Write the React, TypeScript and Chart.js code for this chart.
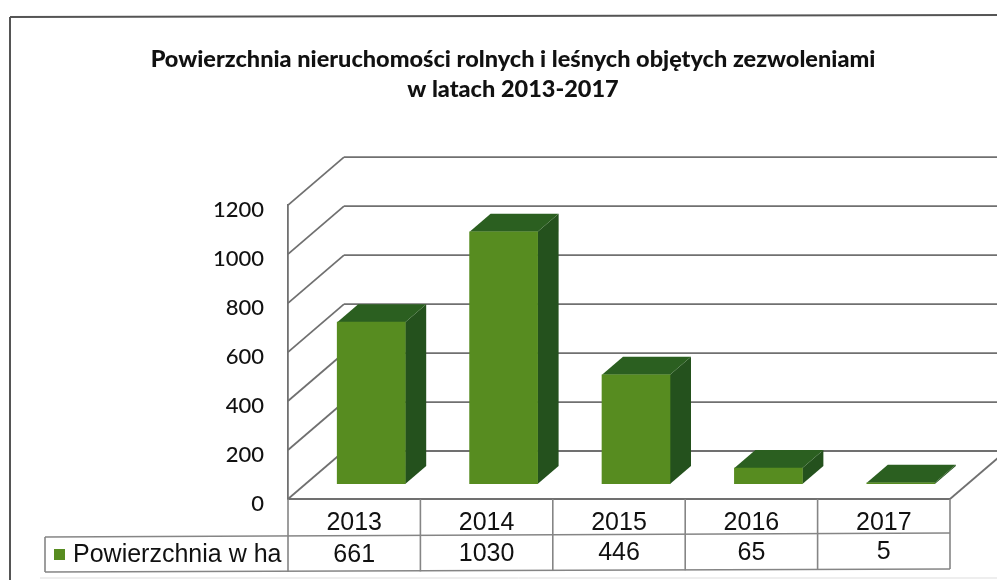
import React, { useEffect, useRef } from "react";
import { Chart, registerables } from "chart.js";

Chart.register(...registerables);

const years = ["2013", "2014", "2015", "2016", "2017"];
const areaHa = [661, 1030, 446, 65, 5];
const seriesName = "Powierzchnia w ha";
const titleLines = [
  "Powierzchnia nieruchomości rolnych i leśnych objętych zezwoleniami",
  "w latach 2013-2017",
];
const yTicks = [0, 200, 400, 600, 800, 1000, 1200];

const GRID = "#707070";
const FRONT = "#578c20";
const TOP = "#2b5f20";
const SIDE = "#24511d";
const WALL_DX = 56;
const WALL_DY = 48;
const BAR_DX = 17;
const BAR_DY = 15;
const DEPTH_X = 21;
const DEPTH_Y = 18;

function poly(ctx: CanvasRenderingContext2D, pts: number[][], fill: string) {
  ctx.beginPath();
  pts.forEach((p, i) => (i ? ctx.lineTo(p[0], p[1]) : ctx.moveTo(p[0], p[1])));
  ctx.closePath();
  ctx.fillStyle = fill;
  ctx.fill();
}

function seg(ctx: CanvasRenderingContext2D, x0: number, y0: number, x1: number, y1: number) {
  ctx.beginPath();
  ctx.moveTo(x0, y0);
  ctx.lineTo(x1, y1);
  ctx.stroke();
}

const chart3d = {
  id: "chart3d",
  beforeDatasetsDraw(chart: any) {
    const { ctx, chartArea, scales } = chart;
    const { left, right } = chartArea;
    ctx.save();
    ctx.strokeStyle = GRID;
    ctx.lineWidth = 1.8;
    yTicks.forEach((v) => {
      const y = scales.y.getPixelForValue(v);
      seg(ctx, left, y, left + WALL_DX, y - WALL_DY);
      seg(ctx, left + WALL_DX, y - WALL_DY, chart.width, y - WALL_DY);
    });
    const y0 = scales.y.getPixelForValue(0);
    seg(ctx, left, y0, right, y0);
    seg(ctx, right, y0, right + WALL_DX, y0 - WALL_DY);

    const meta = chart.getDatasetMeta(0);
    meta.data.forEach((bar: any) => {
      const l = bar.x - bar.width / 2 + BAR_DX;
      const r = bar.x + bar.width / 2 + BAR_DX;
      const t = bar.y - BAR_DY;
      const b = bar.base - BAR_DY;
      poly(ctx, [[r, t], [r + DEPTH_X, t - DEPTH_Y], [r + DEPTH_X, b - DEPTH_Y], [r, b]], SIDE);
      poly(ctx, [[l, t], [l + DEPTH_X, t - DEPTH_Y], [r + DEPTH_X, t - DEPTH_Y], [r, t]], TOP);
    });
    ctx.restore();
    ctx.save();
    ctx.translate(BAR_DX, -BAR_DY);
  },
  afterDatasetsDraw(chart: any) {
    const { ctx, chartArea, scales } = chart;
    ctx.restore();
    const { left, right } = chartArea;
    const band = (right - left) / years.length;
    const slope = -0.0045;
    const tilt = (x: number) => (x - left) * slope;
    const rowTop = 536;
    const rowBottom = 572;

    ctx.save();
    ctx.strokeStyle = "#858585";
    ctx.lineWidth = 1.6;
    // table rows
    seg(ctx, 45, rowTop + 1, right, rowTop + tilt(right));
    seg(ctx, 45, rowBottom, right, rowBottom + tilt(right));
    seg(ctx, 45, rowTop + 1, 45, rowBottom);
    // table columns
    years.concat("").forEach((_, i) => {
      const x = left + i * band;
      seg(ctx, x, 499, x, rowBottom + tilt(x));
    });
    // values row
    ctx.fillStyle = "#111";
    ctx.font = "25px 'Liberation Sans'";
    ctx.textAlign = "center";
    ctx.textBaseline = "middle";
    areaHa.forEach((v, i) => {
      const x = scales.x.getPixelForValue(i);
      ctx.fillText(String(v), x, 555 + tilt(x));
    });
    // legend key
    ctx.fillStyle = FRONT;
    ctx.fillRect(54, 549, 11, 11);
    ctx.fillStyle = "#111";
    ctx.textAlign = "left";
    ctx.fillText(seriesName, 73, 555);
    // outer frame
    ctx.strokeStyle = "#555";
    ctx.lineWidth = 2;
    seg(ctx, 10, 17, 10, chart.height);
    seg(ctx, 10, 17, chart.width, 15);
    ctx.strokeStyle = "#dddddd";
    ctx.lineWidth = 1;
    seg(ctx, 40, 578, chart.width, 578);
    ctx.restore();
  },
};

export default function App() {
  const ref = useRef<HTMLCanvasElement | null>(null);
  useEffect(() => {
    if (!ref.current) return;
    const chart = new Chart(ref.current, {
      type: "bar",
      data: {
        labels: years,
        datasets: [
          {
            label: seriesName,
            data: areaHa,
            backgroundColor: FRONT,
            barThickness: 68,
          },
        ],
      },
      plugins: [chart3d],
      options: {
        responsive: false,
        animation: false,
        layout: { padding: { left: 29, right: 0, top: 0, bottom: 0 } },
        plugins: {
          legend: { display: false },
          tooltip: { enabled: false },
          title: {
            display: true,
            text: titleLines,
            color: "#111",
            font: { family: "Lato", size: 23.5, weight: "900", lineHeight: 1.28 },
            padding: { top: 44, bottom: 101 },
          },
        },
        scales: {
          x: {
            grid: { display: false },
            border: { display: false },
            ticks: {
              color: "#111",
              font: { family: "Liberation Sans", size: 25 },
              padding: 1,
              maxRotation: 0,
            },
            afterFit: (s: any) => {
              s.height = 81;
            },
          },
          y: {
            min: 0,
            max: 1200,
            grid: { display: false, drawTicks: false },
            border: { display: true, color: GRID, width: 1.8 },
            ticks: {
              stepSize: 200,
              color: "#111",
              font: { family: "Lato", size: 22, weight: "500" },
              padding: 24,
              labelOffset: 5,
              callback: (v: any) => String(v),
            },
            afterFit: (s: any) => {
              s.width = 259;
            },
          },
          yPad: {
            position: "right",
            grid: { display: false, drawTicks: false },
            border: { display: false },
            ticks: { display: false },
            afterFit: (s: any) => {
              s.width = 47;
            },
          },
        },
      } as any,
    });
    return () => chart.destroy();
  }, []);
  return (
    <div style={{ position: "absolute", left: 0, top: 0, width: 997, height: 580, background: "#fff" }}>
      <canvas ref={ref} width={997} height={580} style={{ display: "block" }} />
    </div>
  );
}
